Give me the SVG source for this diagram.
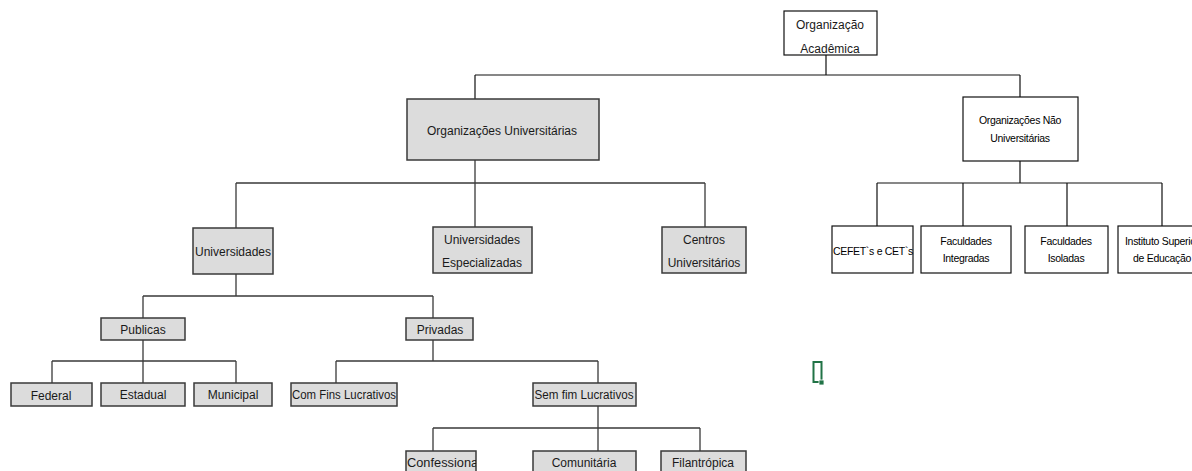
<svg xmlns="http://www.w3.org/2000/svg" width="1192" height="471" viewBox="0 0 1192 471">
<style>
.g{fill:#dcdcdc;stroke:#3a3a3a;stroke-width:1.5}
.w{fill:#fff;stroke:#111;stroke-width:1.2}
.t{font-family:"Liberation Sans",Arial,sans-serif;font-size:12px;fill:#1a1a1a;text-anchor:middle}
.s{font-family:"Liberation Sans",Arial,sans-serif;font-size:10.5px;fill:#000;text-anchor:middle;letter-spacing:-0.3px}
.c{fill:none;stroke:#3a3a3a;stroke-width:1.3}
.k{fill:none;stroke:#111;stroke-width:1.2}
</style>
<rect width="1192" height="471" fill="#fff"/>
<defs><clipPath id="cc"><rect x="406" y="451" width="70" height="24"/></clipPath></defs>
<g id="connectors">
<path class="k" d="M826 55V75M475 75H1020M475 75V99M1020 75V97"/>
<path class="c" d="M475 160V183M236 183H705M236 183V228M475 183V227M705 183V227"/>
<path class="k" d="M1020 161V183M877 183H1162M877 183V226M963 183V226M1067 183V226M1162 183V226"/>
<path class="c" d="M236 274V296M143 296H433M143 296V318M433 296V318"/>
<path class="c" d="M143 340V361M52 361H236M52 361V383M143 361V383M236 361V383"/>
<path class="c" d="M433 340V361M336 361H598M336 361V383M598 361V383"/>
<path class="c" d="M598 406V451M433 428H700M433 428V451M700 428V451"/>
</g>
<g id="n-acad"><rect class="w" x="784" y="11" width="93" height="44"/><text class="t" x="830" y="29" font-size="13">Organização</text><text class="t" x="830" y="53" font-size="13">Acadêmica</text></g>
<g id="n-univ-org"><rect class="g" x="407" y="99" width="192" height="61"/><text class="t" x="502" y="135">Organizações Universitárias</text></g>
<g id="n-nao-univ"><rect class="w" x="963" y="97" width="115" height="64"/><text class="s" x="1020" y="124">Organizações Não</text><text class="s" x="1020" y="142">Universitárias</text></g>
<g id="n-univ"><rect class="g" x="193" y="228" width="80" height="46"/><text class="t" x="233" y="256">Universidades</text></g>
<g id="n-esp"><rect class="g" x="433" y="227" width="99" height="46"/><text class="t" x="482" y="244">Universidades</text><text class="t" x="482" y="267">Especializadas</text></g>
<g id="n-centros"><rect class="g" x="662" y="227" width="84" height="46"/><text class="t" x="704" y="244">Centros</text><text class="t" x="704" y="267">Universitários</text></g>
<g id="n-cefet"><rect class="w" x="832" y="226" width="81" height="47"/><text class="s" x="873" y="255">CEFET`s e CET`s</text></g>
<g id="n-fint"><rect class="w" x="921" y="226" width="90" height="47"/><text class="s" x="966" y="245">Faculdades</text><text class="s" x="966" y="262">Integradas</text></g>
<g id="n-fiso"><rect class="w" x="1025" y="226" width="83" height="47"/><text class="s" x="1066" y="245">Faculdades</text><text class="s" x="1066" y="262">Isoladas</text></g>
<g id="n-inst"><rect class="w" x="1118" y="226" width="90" height="47"/><text class="s" x="1162" y="245">Instituto Superior</text><text class="s" x="1162" y="262">de Educação</text></g>
<g id="n-pub"><rect class="g" x="101" y="318" width="84" height="22"/><text class="t" x="143" y="334">Publicas</text></g>
<g id="n-priv"><rect class="g" x="406" y="318" width="67" height="22"/><text class="t" x="440" y="334">Privadas</text></g>
<g id="n-fed"><rect class="g" x="11" y="383" width="81" height="23"/><text class="t" x="51" y="400">Federal</text></g>
<g id="n-est"><rect class="g" x="101" y="383" width="84" height="23"/><text class="t" x="143" y="399">Estadual</text></g>
<g id="n-mun"><rect class="g" x="194" y="383" width="78" height="23"/><text class="t" x="233" y="399">Municipal</text></g>
<g id="n-com"><rect class="g" x="291" y="383" width="106" height="23"/><text class="t" x="344" y="399" textLength="104" lengthAdjust="spacingAndGlyphs">Com Fins Lucrativos</text></g>
<g id="n-sem"><rect class="g" x="533" y="383" width="103" height="23"/><text class="t" x="584" y="399" textLength="99" lengthAdjust="spacingAndGlyphs">Sem fim Lucrativos</text></g>
<g id="n-conf"><rect class="g" x="406" y="451" width="70" height="24"/><text class="t" x="444" y="467" textLength="74" lengthAdjust="spacingAndGlyphs" clip-path="url(#cc)">Confessional</text></g>
<g id="n-comu"><rect class="g" x="533" y="451" width="103" height="24"/><text class="t" x="584" y="467">Comunitária</text></g>
<g id="n-fil"><rect class="g" x="661" y="451" width="85" height="24"/><text class="t" x="703" y="467">Filantrópica</text></g>
<g id="cursor"><rect x="813.5" y="362" width="8" height="20" fill="none" stroke="#217346" stroke-width="2"/><rect x="819" y="380" width="5" height="5" fill="#217346" stroke="#fff" stroke-width="0.8"/></g>
</svg>
